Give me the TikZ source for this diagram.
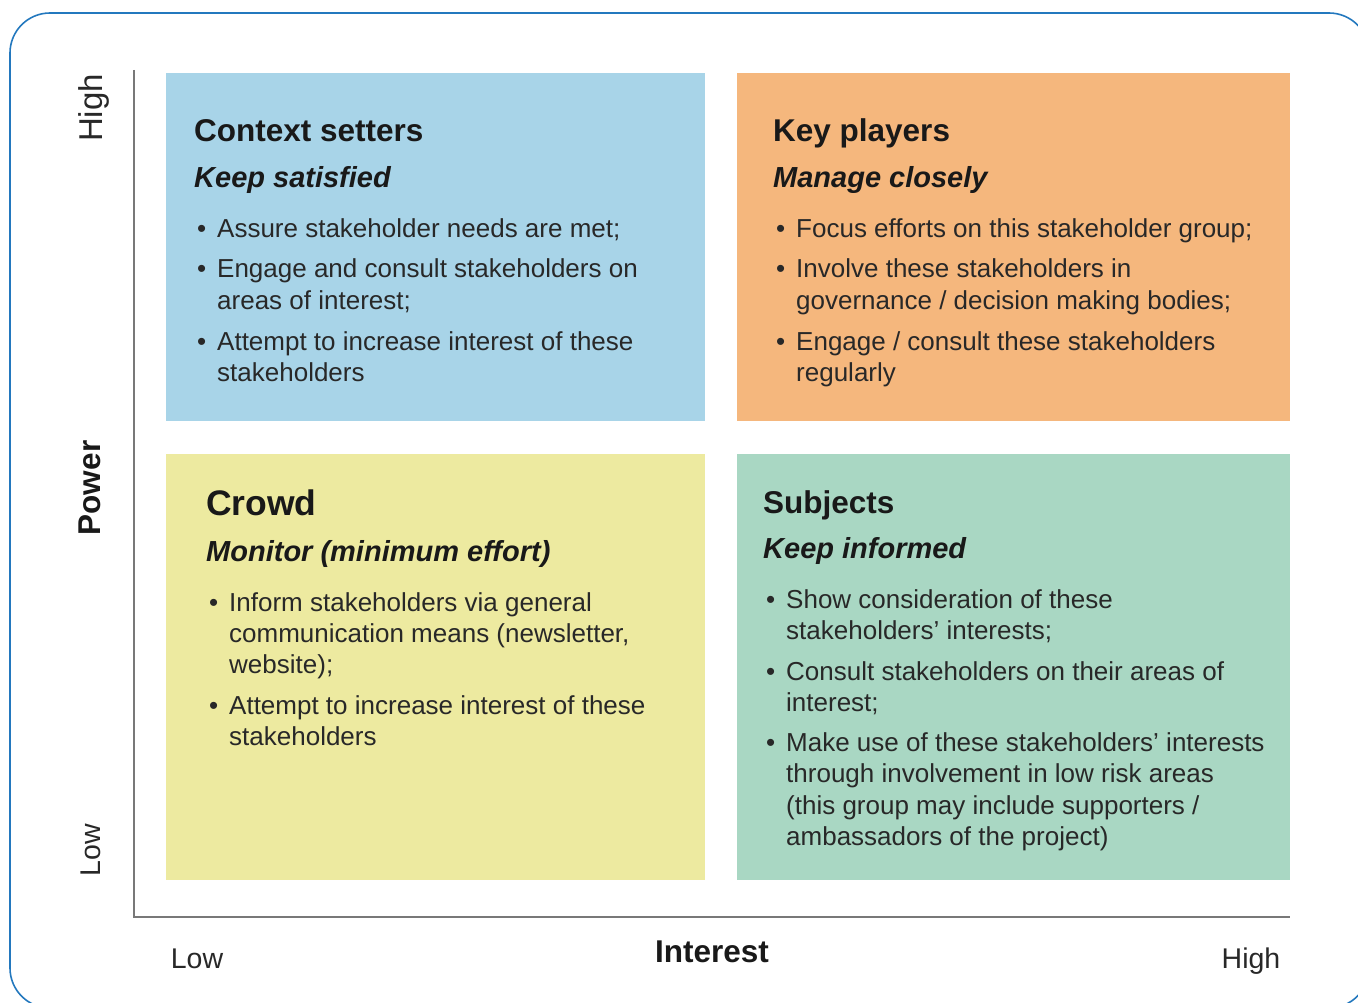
\documentclass[tikz,border=0pt]{standalone}
\usepackage{fontspec}
\setmainfont{Liberation Sans}
\definecolor{cblue}{RGB}{168,212,232}
\definecolor{corange}{RGB}{245,183,125}
\definecolor{cyellow}{RGB}{237,234,160}
\definecolor{cgreen}{RGB}{169,215,195}
\definecolor{frame}{RGB}{35,120,190}
\definecolor{axis}{RGB}{120,120,120}
\definecolor{ink}{RGB}{25,25,25}
\definecolor{ink2}{RGB}{40,40,40}
\newcommand\bul{\llap{\textbullet\hspace{11pt}}}
\tikzset{
 quad/.style={anchor=north west, inner sep=0pt, outer sep=0pt, draw=none},
 ttl/.style={anchor=base west, inner sep=0pt, font=\fontsize{31.5}{36}\selectfont\bfseries, text=ink},
 sub/.style={anchor=base west, inner sep=0pt, font=\fontsize{29}{34}\selectfont\bfseries\itshape, text=ink},
 body/.style={anchor=base west, inner sep=0pt, font=\fontsize{26}{31}\selectfont, text=ink2},
 axlab/.style={inner sep=0pt, font=\fontsize{28.5}{34}\selectfont, text=ink2},
 axttl/.style={inner sep=0pt, font=\fontsize{31.5}{36}\selectfont\bfseries, text=ink},
}
\begin{document}
\begin{tikzpicture}[x=1pt,y=-1pt]
\useasboundingbox (0,0) rectangle (1358,1003);
% outer frame
\draw[frame, line width=1.6pt, rounded corners=40pt] (10,13) rectangle (1369,1008);
% quadrants
\node[quad, fill=cblue, minimum width=539pt, minimum height=348pt] (cs) at (166,73) {};
\node[quad, fill=corange, minimum width=553pt, minimum height=348pt] (kp) at (737,73) {};
\node[quad, fill=cyellow, minimum width=539pt, minimum height=426pt] (cr) at (166,454) {};
\node[quad, fill=cgreen, minimum width=553pt, minimum height=426pt] (sb) at (737,454) {};
% axes
\coordinate (ytop) at (134,70);
\coordinate (orig) at (134,917);
\coordinate (xend) at (1290,917);
\draw[axis, line width=2.2pt] (ytop) -- (orig) -- (xend);
% axis labels
\node[axlab, rotate=90, font=\fontsize{33}{38}\selectfont] (yhigh) at (94,108) {High};
\node[axttl, rotate=90] (ypow) at (90,488) {Power};
\node[axlab, rotate=90] (ylow) at (91,850) {Low};
\node[axlab, anchor=base] (xlow) at (197,968) {Low};
\node[axttl, anchor=base] (xint) at (712,962) {Interest};
\node[axlab, anchor=base] (xhigh) at (1251,968) {High};
% Context setters
\node[ttl] (cs-t) at (194,142) {Context setters};
\node[sub] (cs-s) at (194,188) {Keep satisfied};
\node[body] (cs-1) at (217,238) {\bul Assure stakeholder needs are met;};
\node[body] (cs-2) at (217,278) {\bul Engage and consult stakeholders on};
\node[body] (cs-2b) at (217,309) {areas of interest;};
\node[body] (cs-3) at (217,350) {\bul Attempt to increase interest of these};
\node[body] (cs-3b) at (217,381) {stakeholders};
% Key players
\node[ttl] (kp-t) at (773,142) {Key players};
\node[sub] (kp-s) at (773,188) {Manage closely};
\node[body] (kp-1) at (796,238) {\bul Focus efforts on this stakeholder group;};
\node[body] (kp-2) at (796,278) {\bul Involve these stakeholders in};
\node[body] (kp-2b) at (796,309) {governance / decision making bodies;};
\node[body] (kp-3) at (796,350) {\bul Engage / consult these stakeholders};
\node[body] (kp-3b) at (796,381) {regularly};
% Crowd
\node[ttl, font=\fontsize{35.5}{40}\selectfont\bfseries] (cr-t) at (206,515) {Crowd};
\node[sub] (cr-s) at (206,561) {Monitor (minimum effort)};
\node[body] (cr-1) at (229,611) {\bul Inform stakeholders via general};
\node[body] (cr-1b) at (229,642) {communication means (newsletter,};
\node[body] (cr-1c) at (229,673) {website);};
\node[body] (cr-2) at (229,714) {\bul Attempt to increase interest of these};
\node[body] (cr-2b) at (229,745) {stakeholders};
% Subjects
\node[ttl] (sb-t) at (763,513) {Subjects};
\node[sub] (sb-s) at (763,558) {Keep informed};
\node[body] (sb-1) at (786,608) {\bul Show consideration of these};
\node[body] (sb-1b) at (786,639) {stakeholders' interests;};
\node[body] (sb-2) at (786,680) {\bul Consult stakeholders on their areas of};
\node[body] (sb-2b) at (786,711) {interest;};
\node[body] (sb-3) at (786,751) {\bul Make use of these stakeholders' interests};
\node[body] (sb-3b) at (786,782) {through involvement in low risk areas};
\node[body] (sb-3c) at (786,814) {(this group may include supporters /};
\node[body] (sb-3d) at (786,845) {ambassadors of the project)};
\end{tikzpicture}
\end{document}
